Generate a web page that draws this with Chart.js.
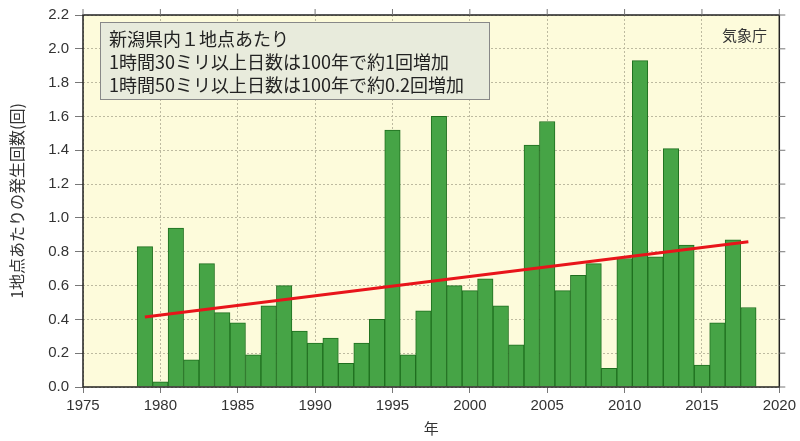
<!DOCTYPE html>
<html lang="ja">
<head>
  <meta charset="UTF-8" />
  <title>1時間降水量30mm以上の年間発生回数（新潟県）</title>
  <script src="https://cdn.jsdelivr.net/npm/chart.js"></script>
  <style>
    body { margin: 0; padding: 0; background: #fff; }
    #wrap { width: 800px; height: 441px; }
  </style>
</head>
<body>
  <div id="wrap"><canvas id="chartCanvas"></canvas></div>

  <script>
    // 年ごとの1地点あたり発生回数
    const years = [
      1979, 1980, 1981, 1982, 1983, 1984, 1985, 1986, 1987, 1988,
      1989, 1990, 1991, 1992, 1993, 1994, 1995, 1996, 1997, 1998,
      1999, 2000, 2001, 2002, 2003, 2004, 2005, 2006, 2007, 2008,
      2009, 2010, 2011, 2012, 2013, 2014, 2015, 2016, 2017, 2018
    ];
    const counts = [
      0.83, 0.03, 0.94, 0.16, 0.73, 0.44, 0.38, 0.19, 0.48, 0.60,
      0.33, 0.26, 0.29, 0.14, 0.26, 0.40, 1.52, 0.19, 0.45, 1.60,
      0.60, 0.57, 0.64, 0.48, 0.25, 1.43, 1.57, 0.57, 0.66, 0.73,
      0.11, 0.76, 1.93, 0.77, 1.41, 0.84, 0.13, 0.38, 0.87, 0.47
    ];
    // 長期変化傾向（直線）
    const trendYears = [1979, 2018];
    const trendValues = [0.414, 0.859];

    const noteLines = [
      "新潟県内１地点あたり",
      "1時間30ミリ以上日数は100年で約1回増加",
      "1時間50ミリ以上日数は100年で約0.2回増加"
    ];

    const JP = "'Noto Sans CJK JP', sans-serif";
    const NUM = "'Liberation Sans', Arial, sans-serif";

    // 描画領域の背景・枠・注記
    const framePlugin = {
      id: "frame",
      beforeDraw(chart) {
        const { ctx, chartArea: a } = chart;
        ctx.save();
        ctx.fillStyle = "#fdfbdb";
        ctx.fillRect(a.left, a.top, a.right - a.left, a.bottom - a.top);
        ctx.restore();
      },
      afterDraw(chart) {
        const { ctx, chartArea: a, scales } = chart;
        ctx.save();
        ctx.strokeStyle = "#222";
        ctx.lineWidth = 1.5;
        ctx.strokeRect(a.left, a.top, a.right - a.left, a.bottom - a.top);

        // 上辺・右辺の目盛り
        ctx.lineWidth = 1;
        ctx.strokeStyle = "#777";
        for (let v = 1975; v <= 2020; v += 5) {
          const x = scales.x.getPixelForValue(v);
          ctx.beginPath(); ctx.moveTo(x, a.top); ctx.lineTo(x, a.top - 6); ctx.stroke();
        }
        for (let v = 0; v <= 2.2001; v += 0.2) {
          const y = scales.y.getPixelForValue(v);
          ctx.beginPath(); ctx.moveTo(a.right, y); ctx.lineTo(a.right + 6, y); ctx.stroke();
        }

        // 注記ボックス
        ctx.fillStyle = "#e8ebdc";
        ctx.fillRect(100, 22, 389, 77);
        ctx.strokeStyle = "#888";
        ctx.lineWidth = 1;
        ctx.strokeRect(100.5, 22.5, 389, 77);
        ctx.fillStyle = "#222";
        ctx.font = "18px " + JP;
        ctx.textBaseline = "middle";
        noteLines.forEach((t, i) => ctx.fillText(t, 109, 39 + i * 23));

        ctx.font = "15px " + JP;
        ctx.fillStyle = "#333";
        ctx.fillText("気象庁", 722, 35);
        ctx.restore();
      }
    };

    new Chart(document.getElementById("chartCanvas"), {
      data: {
        datasets: [
          {
            type: "line",
            data: trendYears.map((x, i) => ({ x, y: trendValues[i] })),
            borderColor: "#e8141a",
            borderWidth: 3,
            pointRadius: 0,
            fill: false
          },
          {
            type: "bar",
            data: years.map((x, i) => ({ x, y: counts[i] })),
            backgroundColor: "#46a446",
            borderColor: "#1f6f1f",
            borderWidth: 1,
            barPercentage: 1,
            categoryPercentage: 1
          }
        ]
      },
      options: {
        responsive: true,
        maintainAspectRatio: false,
        animation: false,
        layout: { padding: { top: 15, right: 13, left: 7, bottom: 0 } },
        plugins: { legend: { display: false }, tooltip: { enabled: false } },
        scales: {
          x: {
            type: "linear",
            min: 1975,
            max: 2020,
            offset: false,
            ticks: { stepSize: 5, color: "#333", font: { family: NUM, size: 15 }, padding: 4,
                     callback: v => String(v) },
            grid: { offset: false, color: "#bdbaa0", tickColor: "#777", tickLength: 6, lineWidth: 1 },
            border: { display: false, dash: [2, 2] },
            title: { display: true, text: "年", color: "#333", font: { family: JP, size: 15 }, padding: { top: 2 } },
            afterFit: s => { s.height = 54; }
          },
          y: {
            min: 0,
            max: 2.2,
            ticks: { stepSize: 0.2, color: "#333", font: { family: NUM, size: 15 }, padding: 6,
                     callback: v => v.toFixed(1) },
            grid: { color: "#bdbaa0", tickColor: "#777", tickLength: 8, lineWidth: 1 },
            border: { display: false, dash: [2, 2] },
            title: { display: true, text: "1地点あたりの発生回数(回)", color: "#333", font: { family: JP, size: 16 }, padding: { top: 0, bottom: 4 } },
            afterFit: s => { s.width = 76; }
          }
        }
      },
      plugins: [framePlugin]
    });
  </script>
</body>
</html>
